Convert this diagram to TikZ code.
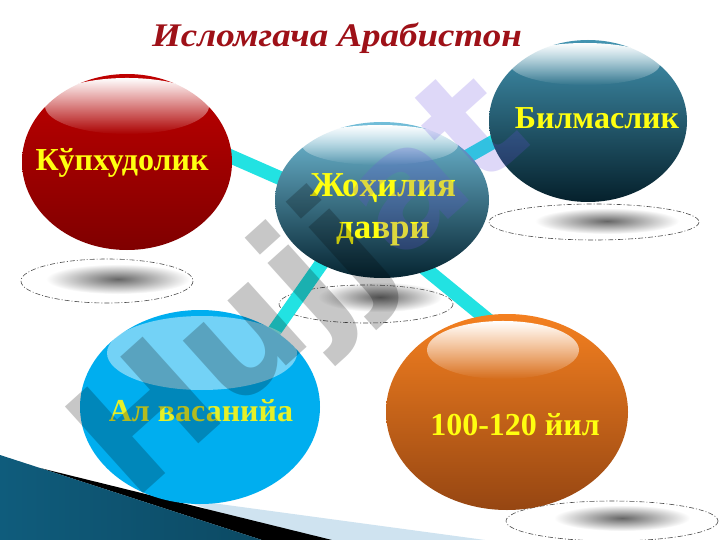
\documentclass[tikz,border=0pt]{standalone}
\usepackage{fontspec}
\usepackage{graphicx}
\setmainfont{Liberation Serif}
\newfontfamily\wmfont{DejaVu Sans}
\usetikzlibrary{shapes.geometric,fadings,calc}
\definecolor{cyanline}{HTML}{22E2E2}
\definecolor{titlered}{HTML}{9E1118}
\definecolor{lblyellow}{HTML}{FFFF10}
\definecolor{paleblue}{HTML}{CFE3F0}
\definecolor{tealdark}{HTML}{0F5C7C}
\definecolor{teallight}{HTML}{4FAED0}
\definecolor{wmlav}{HTML}{6A50E0}
\pgfdeclarelayer{bg}
\pgfsetlayers{bg,main}
\begin{document}
\begin{tikzpicture}[x=1pt,y=-1pt,
  sphere/.style={ellipse, inner sep=0pt, draw=none},
  lbl/.style={font=\bfseries\fontsize{32}{40}\selectfont, text=lblyellow, align=center, inner sep=0pt},
  link/.style={line width=14pt, draw=cyanline},
  ring/.style={draw=black!70, line width=0.6pt, dash pattern=on 5pt off 2pt on 1pt off 2pt},
  gloss/.style={fill=white, path fading=south}]
\useasboundingbox (0,0) rectangle (720,540);

% sphere nodes
\node[sphere, minimum width=210pt, minimum height=176pt, top color=red!75!black, bottom color=red!50!black] (r) at (127,162) {};
\node[sphere, minimum width=214pt, minimum height=156pt, top color=teallight!80!white, middle color=tealdark!85!white, bottom color=tealdark!40!black] (c) at (382,200) {};
\node[sphere, minimum width=198pt, minimum height=162pt, top color=teallight!85!black, middle color=tealdark, bottom color=tealdark!35!black] (b) at (588,121) {};
\node[sphere, minimum width=240pt, minimum height=194pt, fill={rgb,255:red,0;green,174;blue,239}] (l) at (200,407) {};
\node[sphere, minimum width=242pt, minimum height=196pt, top color={rgb,255:red,244;green,128;blue,32}, bottom color={rgb,255:red,150;green,70;blue,18}] (o) at (507,412) {};

\begin{pgfonlayer}{bg}
\fill[white] (0,0) rectangle (720,540);
% bottom-left decoration
\fill[paleblue] (175,498) -- (485,540) -- (300,540) -- cycle;
\fill[black] (40,468) -- (332,540) -- (262,540) -- cycle;
\shade[left color=tealdark, middle color=teallight, right color=tealdark!80!black] (0,455) -- (262,540) -- (0,540) -- cycle;
% floor shadows
\shade[inner color=black!60, outer color=white] (118,279) ellipse (72 and 15);
\draw[ring] (107,281) ellipse (86 and 22);
\shade[inner color=black!60, outer color=white] (380,297) ellipse (62 and 15);
\draw[ring] (366,304) ellipse (87 and 19);
\shade[inner color=black!60, outer color=white] (607,221) ellipse (72 and 13);
\draw[ring] (594,222) ellipse (105 and 18);
\shade[inner color=black!60, outer color=white] (622,518) ellipse (68 and 13);
\draw[ring] (612,521) ellipse (106 and 20);
% connectors
\draw[link] ($(r)+(73,-19)$) -- ($(c)+(-52,0)$);
\draw[link] ($(c)+(58,-28)$) -- ($(b)+(-58,0)$);
\draw[link] ($(c)+(-44,40)$) -- ($(l)+(47,-37)$);
\draw[link] ($(c)+(18,48)$) -- ($(o)+(3,-74)$);
\end{pgfonlayer}

% glossy highlights
\fill[gloss] (127,106) ellipse (82 and 28);
\fill[gloss] (380,145) ellipse (78 and 20);
\fill[gloss] (585,64) ellipse (75 and 21);
\fill[white, opacity=0.45] (202,353) ellipse (95 and 37);
\fill[gloss] (503,350) ellipse (76 and 29);

% labels
\node[lbl] (rt) at ($(r)+(-5,1)$) {Кўпхудолик};
\node[lbl, font=\bfseries\fontsize{35}{42}\selectfont] (ct) at ($(c)+(1,10)$) {Жоҳилия\\даври};
\node[lbl] (bt) at ($(b)+(9,-3)$) {Билмаслик};
\node[lbl, text={rgb,255:red,230;green,240;blue,40}] (lt) at ($(l)+(1,4)$) {Ал васанийа};
\node[lbl] (ot) at ($(o)+(8,13)$) {100-120 йил};

% title
\node[font=\bfseries\itshape\fontsize{33}{36}\selectfont, text=titlered] (title) at (337,38) {\scalebox{1.12}[1]{Исломгача Арабистон}};

% watermark
\node[rotate=42, font=\wmfont\bfseries\fontsize{160}{160}\selectfont, text=black, opacity=0.22] (wm) at (305,290) {Hujj\textcolor{wmlav}{at}};
\end{tikzpicture}
\end{document}
